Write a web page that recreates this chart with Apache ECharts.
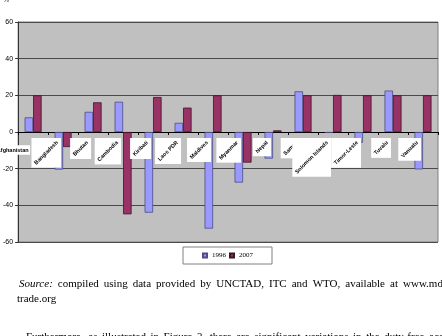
<!DOCTYPE html>
<html><head><meta charset="utf-8">
<script src="https://cdn.jsdelivr.net/npm/echarts@6/dist/echarts.min.js"></script>
<style>html,body{margin:0;padding:0;background:#fff}#c{width:442px;height:336px}</style>
</head><body><div id="c"></div>
<script>
// ---- data ----
const categories = ['Afghanistan','Bangladesh','Bhutan','Cambodia','Kiribati','Laos PDR','Maldives','Myanmar','Nepal','Samoa','Solomon Islands','Timor-Leste','Tuvalu','Vanuatu'];
const values1996 = [8, -20.5, 11, 16.5, -44, 5, -52.7, -27.6, -14.5, 22.2, -0.5, -5.8, 22.6, -20.4];
const values2007 = [20, -8.2, 16.2, -44.9, 19.1, 13.3, 20, -16.7, 0.9, 20, 20.2, 20, 20, 20];
const seriesNames = ['1996', '2007'];
const yMin = -60, yMax = 60, yStep = 20;
const unitLabel = '%';
const sourceWords = ['Source:', 'compiled', 'using', 'data', 'provided', 'by', 'UNCTAD,', 'ITC', 'and', 'WTO,', 'available', 'at', 'www.mdg-'];
const sourceLine2 = 'trade.org';
const bodyWords = ['Furthermore,', 'as', 'illustrated', 'in', 'Figure', '3,', 'there', 'are', 'significant', 'variations', 'in', 'the', 'duty-free', 'access'];

// ---- helpers ----
const LABEL_FONT = 'bold 5.5px "Liberation Sans"';
const SERIF = '11px "Liberation Serif"';
const SERIF_I = 'italic 11px "Liberation Serif"';
const mctx = document.createElement('canvas').getContext('2d');
function textW(t, font) { mctx.font = font; return mctx.measureText(t).width; }

function justify(words, x0, xLastStart, y, fontFn) {
  const ws = words.map((w, i) => textW(w, fontFn(i)));
  let total = 0;
  for (let i = 0; i < ws.length - 1; i++) total += ws[i];
  const gap = (xLastStart - x0 - total) / (words.length - 1);
  const out = [];
  let x = x0;
  words.forEach((w, i) => {
    out.push({ type: 'text', x: x, y: y, silent: true,
      style: { text: w, font: fontFn(i), fill: '#000', verticalAlign: 'middle' } });
    x += ws[i] + gap;
  });
  return out;
}

const graphics = [
  { type: 'text', x: 3, y: -3, style: { text: unitLabel, font: '7px "Liberation Sans"', fill: '#333' } }
]
.concat(justify(sourceWords, 19, 403, 284, i => i === 0 ? SERIF_I : SERIF))
.concat([{ type: 'text', x: 17, y: 299, style: { text: sourceLine2, font: SERIF, fill: '#000', verticalAlign: 'middle' } }])
.concat(justify(bodyWords, 26, 429, 337, () => SERIF));

const chart = echarts.init(document.getElementById('c'), null, { renderer: 'canvas' });
chart.setOption({
  animation: false,
  backgroundColor: '#fff',
  grid: { left: 16, right: 4, top: 22, bottom: 94, show: true, backgroundColor: '#C0C0C0', borderColor: '#808080', borderWidth: 1 },
  legend: {
    data: seriesNames,
    left: 183, top: 247,
    padding: [5, 19, 5, 19],
    itemWidth: 4, itemHeight: 4, itemGap: 3,
    backgroundColor: '#fff', borderColor: '#808080', borderWidth: 1, borderRadius: 0,
    icon: 'rect',
    textStyle: { fontSize: 7, fontFamily: 'Liberation Serif', color: '#000' }
  },
  xAxis: {
    type: 'category', data: categories,
    axisLine: { onZero: true, lineStyle: { color: '#000', width: 1 } },
    axisTick: { show: true, length: 3, interval: 0, lineStyle: { color: '#000' } },
    axisLabel: { show: false },
    splitLine: { show: false }
  },
  yAxis: {
    type: 'value', min: yMin, max: yMax, interval: yStep,
    axisLine: { show: true, lineStyle: { color: '#333' } },
    axisTick: { show: true, length: 3, lineStyle: { color: '#333' } },
    axisLabel: { fontSize: 7, fontFamily: 'Liberation Sans', color: '#000', margin: 5 },
    splitLine: { show: true, lineStyle: { color: '#4a4a4a', width: 1 } }
  },
  series: [
    { name: seriesNames[0], type: 'bar', data: values1996, barWidth: 8.5, barGap: '0%',
      itemStyle: { color: '#9999FF', borderColor: '#4d4d80', borderWidth: 0.8 } },
    { name: seriesNames[1], type: 'bar', data: values2007, barWidth: 8.5,
      itemStyle: { color: '#993366', borderColor: '#3d1429', borderWidth: 0.8 } },
    { type: 'custom', silent: true, z: 10,
      data: categories.map((c, i) => [i, 0]),
      encode: { x: 0, y: 1 },
      renderItem: function (params, api) {
        const i = api.value(0);
        const pt = api.coord([i, 0]);
        const cx = pt[0], y0 = pt[1];
        const txt = categories[i];
        const L = textW(txt, LABEL_FONT);
        const h = 6.5, p = 1.5, s = Math.SQRT1_2;
        let px, py, rect, rot;
        if (i === 0) {
          px = cx - 3 - p; py = y0 + 18;
          rect = { x: px - L - p, y: py - h / 2 - p, width: L + 2 * p, height: h + 2 * p };
          rot = 0;
        } else {
          px = cx - 2 - p - h / 2 * s; py = y0 + 6 + p + h / 2 * s;
          const side = L * s + h * s + 2 * p;
          rect = { x: px + h / 2 * s + p - side, y: py - h / 2 * s - p, width: side, height: side };
          rot = Math.PI / 4;
        }
        return { type: 'group', children: [
          { type: 'rect', shape: rect, style: { fill: '#fff' } },
          { type: 'text', x: px, y: py, rotation: rot,
            style: { text: txt, font: LABEL_FONT, fill: '#000', align: 'right', verticalAlign: 'middle' } }
        ] };
      }
    }
  ],
  graphic: graphics
});
</script>
</body></html>
